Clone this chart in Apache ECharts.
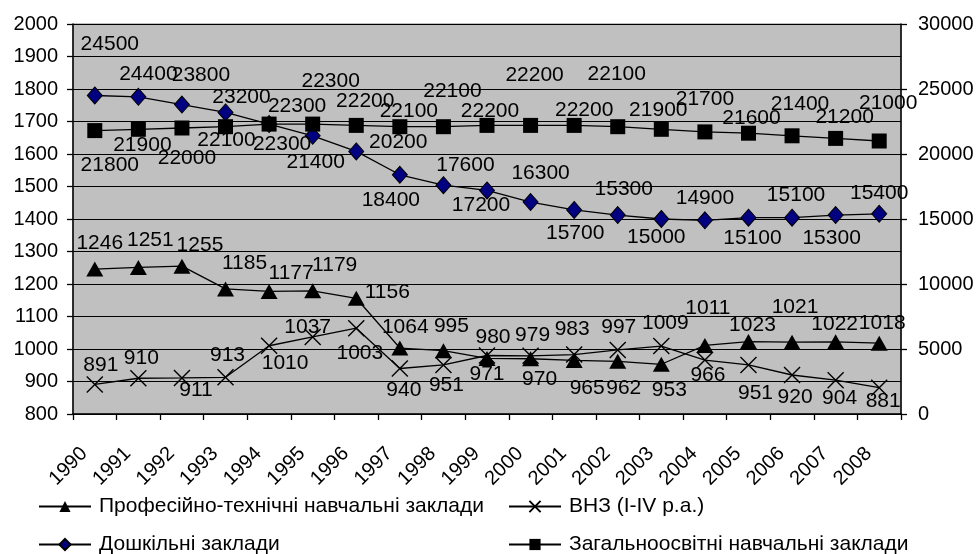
<!DOCTYPE html>
<html>
<head>
<meta charset="utf-8">
<script src="https://cdn.jsdelivr.net/npm/echarts@6/dist/echarts.min.js"></script>
<style>
html,body{margin:0;padding:0;background:#fff;}
#chart{width:978px;height:554px;}
</style>
</head>
<body>
<div id="chart"></div>
<script>
// ---- data ----
const years = ['1990','1991','1992','1993','1994','1995','1996','1997','1998','1999','2000','2001','2002','2003','2004','2005','2006','2007','2008'];
const ptnz = [1246,1251,1255,1185,1177,1179,1156,1003,995,971,970,965,962,953,1011,1023,1021,1022,1018];
const vnz = [891,910,911,913,1010,1037,1064,940,951,980,979,983,997,1009,966,951,920,904,881];
const preschool = [24500,24400,23800,23200,22300,21400,20200,18400,17600,17200,16300,15700,15300,15000,14900,15100,15100,15300,15400];
const general = [21800,21900,22000,22100,22300,22300,22200,22100,22100,22200,22200,22200,22100,21900,21700,21600,21400,21200,21000];
const names = ['Професійно-технічні навчальні заклади','ВНЗ (І-IV р.а.)','Дошкільні заклади','Загальноосвітні навчальні заклади'];

// ---- label placement (styling: label centre offset from its point) ----
const ptnzLbl = [[5,-26],[12,-27],[18,-21],[19,-26],[22,-18],[22,-26],[31,-6],[-40,5],[8,-24],[0,16],[9,20],[13,28],[6,27],[8,26],[3,-37],[4,-16],[3,-35],[-1,-18],[3,-20]];
const vnzLbl = [[6,-19],[3,-20],[14,12],[2,-22],[16,17],[-5,-10],[49,-1],[4,22],[3,20],[6,-18],[2,-21],[-2,-25],[1,-23],[4,-23],[3,15],[7,28],[3,22],[4,18],[4,14]];
const preLbl = [[15,-51],[10,-23],[19,-29],[16,-15],[13,20],[3,26],[42,-9],[-9,25],[22,-20],[-6,15],[10,-29],[1,23],[6,-26],[-5,18],[0,-22],[4,21],[4,-22],[-4,23],[0,-21]];
const genLbl = [[15,35],[4,16],[5,30],[1,14],[28,-18],[18,-43],[9,-24],[9,-15],[9,-35],[3,-14],[4,-50],[10,-15],[-1,-52],[-3,-19],[0,-33],[3,-15],[8,-32],[9,-21],[9,-38]];

const FONT = "'Liberation Sans', Arial, sans-serif";

function withLabels(values, offs) {
  return values.map((v, i) => ({ value: v, label: { offset: offs[i] } }));
}

const baseLabel = {
  show: true, position: 'inside', align: 'center', verticalAlign: 'middle',
  color: '#000', fontSize: 21, fontFamily: FONT
};

function legendAt(name, left, top) {
  return { data: [name], left: left, top: top, itemWidth: 52, itemHeight: 14, padding: 0,
    textStyle: { fontSize: 21, fontFamily: FONT, color: '#000', padding: [0, 0, 0, 3] } };
}

const chart = echarts.init(document.getElementById('chart'), null, { renderer: 'canvas' });
chart.setOption({
  animation: false,
  backgroundColor: '#fff',
  textStyle: { fontFamily: FONT, color: '#000' },
  grid: { left: 73, right: 77, top: 24, bottom: 140, show: true, backgroundColor: '#C0C0C0', borderColor: '#808080', borderWidth: 1 },
  legend: [
    legendAt(names[0], 38, 496),
    legendAt(names[1], 508, 496),
    legendAt(names[2], 38, 534),
    legendAt(names[3], 508, 534)
  ],
  xAxis: {
    type: 'category', data: years, boundaryGap: true,
    axisLine: { lineStyle: { color: '#000', width: 1.5 } },
    axisTick: { show: true, length: 6, lineStyle: { color: '#000', width: 1.3 }, interval: 0 },
    axisLabel: { rotate: 45, interval: 0, fontSize: 20, color: '#000', fontFamily: FONT, margin: 26, padding: [0, 15, 0, 0] }
  },
  yAxis: [
    { type: 'value', min: 800, max: 2000, interval: 100, position: 'left',
      axisLine: { show: true, lineStyle: { color: '#000', width: 1.5 } },
      axisTick: { show: true, length: 6, lineStyle: { color: '#000', width: 1.3 } },
      axisLabel: { fontSize: 20, color: '#000', fontFamily: FONT, margin: 15, formatter: v => String(v) },
      splitLine: { show: true, lineStyle: { color: '#000', width: 1 } } },
    { type: 'value', min: 0, max: 30000, interval: 5000, position: 'right',
      axisLine: { show: true, lineStyle: { color: '#000', width: 1.5 } },
      axisTick: { show: true, length: 6, lineStyle: { color: '#000', width: 1.3 } },
      axisLabel: { fontSize: 20, color: '#000', fontFamily: FONT, margin: 17, formatter: v => String(v) },
      splitLine: { show: false } }
  ],
  series: [
    { name: names[0], type: 'line', yAxisIndex: 0, data: withLabels(ptnz, ptnzLbl),
      symbol: 'triangle', symbolSize: [17, 15], showAllSymbol: true,
      itemStyle: { color: '#000' }, lineStyle: { color: '#000', width: 1.3 }, label: baseLabel },
    { name: names[1], type: 'line', yAxisIndex: 0, data: withLabels(vnz, vnzLbl),
      symbol: 'path://M0,0L10,10M10,0L0,10', symbolSize: 16, showAllSymbol: true,
      itemStyle: { color: 'rgba(0,0,0,0)', borderColor: '#000', borderWidth: 1.4 },
      lineStyle: { color: '#000', width: 1.3 }, label: baseLabel },
    { name: names[2], type: 'line', yAxisIndex: 1, data: withLabels(preschool, preLbl),
      symbol: 'diamond', symbolSize: [15, 17], showAllSymbol: true,
      itemStyle: { color: '#000080', borderColor: '#000', borderWidth: 1 },
      lineStyle: { color: '#000', width: 1.3 }, label: baseLabel },
    { name: names[3], type: 'line', yAxisIndex: 1, data: withLabels(general, genLbl),
      symbol: 'rect', symbolSize: 15, showAllSymbol: true,
      itemStyle: { color: '#000' }, lineStyle: { color: '#000', width: 1.3 }, label: baseLabel }
  ]
});
</script>
</body>
</html>
